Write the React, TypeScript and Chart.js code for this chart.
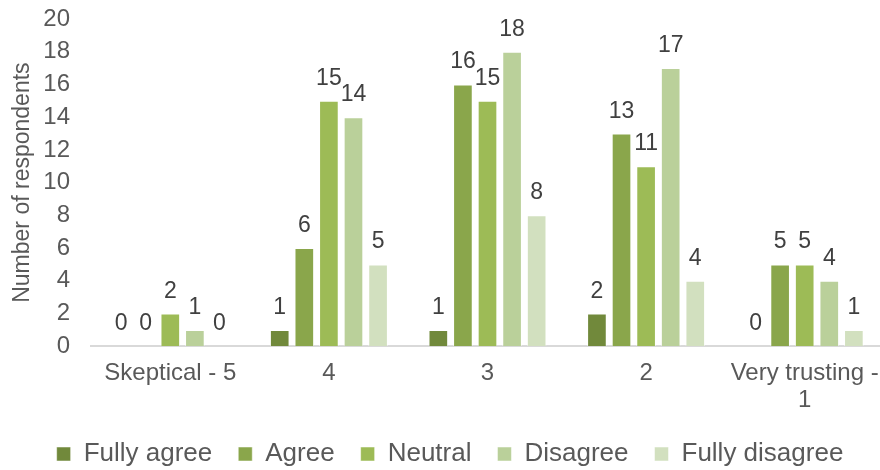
import React, { useEffect, useRef } from "react";
import { Chart, registerables } from "chart.js";

Chart.register(...registerables);

const categories: (string | string[])[] = ["Skeptical - 5", "4", "3", "2", ["Very trusting -", "1"]];
const seriesNames = ["Fully agree", "Agree", "Neutral", "Disagree", "Fully disagree"];
const fullyAgree = [0, 1, 1, 2, 0];
const agree = [0, 6, 16, 13, 5];
const neutral = [2, 15, 15, 11, 5];
const disagree = [1, 14, 18, 17, 4];
const fullyDisagree = [0, 5, 8, 4, 1];
const seriesColors = ["#71893b", "#8aa64b", "#9dbb56", "#bad09a", "#d2e0bf"];

const FONT = "'Liberation Sans', Arial, sans-serif";
const TEXT = "#595959";

// Value labels drawn above every bar, zeros included
const valueLabels = {
  id: "valueLabels",
  afterDatasetsDraw(chart: Chart) {
    const ctx = chart.ctx;
    ctx.save();
    ctx.font = `23px ${FONT}`;
    ctx.fillStyle = "#404040";
    ctx.textAlign = "center";
    ctx.textBaseline = "alphabetic";
    chart.data.datasets.forEach((ds, i) => {
      const meta = chart.getDatasetMeta(i);
      meta.data.forEach((el: any, j: number) => {
        const v = ds.data[j] as number;
        ctx.fillText(String(v), el.x, el.y - 16);
      });
    });
    ctx.restore();
  },
};

// Tighter legend block: less reserved height, drawn a little higher and
// centred on the canvas, with its clip box reaching the canvas bottom again
const LEGEND_SHRINK = 20;
const LEGEND_LIFT = 13;
const legendSpacing = {
  id: "legendSpacing",
  beforeInit(chart: any) {
    const legend = chart.legend;
    const fit = legend.fit;
    legend.fit = function () {
      fit.call(this);
      this.height -= LEGEND_SHRINK;
    };
  },
  afterLayout(chart: any) {
    const legend = chart.legend;
    legend.top -= LEGEND_LIFT;
    legend.bottom = chart.height;
    legend.left = 0;
    legend.right = chart.width;
  },
};

export default function App() {
  const ref = useRef<HTMLCanvasElement>(null);
  useEffect(() => {
    const data = [fullyAgree, agree, neutral, disagree, fullyDisagree];
    const chart = new Chart(ref.current!, {
      type: "bar",
      data: {
        labels: categories,
        datasets: seriesNames.map((name, i) => ({
          label: name,
          data: data[i],
          backgroundColor: seriesColors[i],
          borderColor: "rgba(255,255,255,0.5)",
          borderWidth: 1,
          barPercentage: 0.8,
          categoryPercentage: 0.775,
        })),
      },
      options: {
        animation: false,
        responsive: false,
        maintainAspectRatio: false,
        layout: { padding: { top: 4, right: 16, left: 0, bottom: 0 } },
        plugins: {
          legend: {
            position: "bottom",
            labels: {
              boxWidth: 14,
              boxHeight: 14,
              padding: 26,
              color: TEXT,
              font: { family: FONT, size: 26 },
            },
          },
          tooltip: { enabled: false },
        },
        scales: {
          x: {
            grid: { display: false, drawTicks: false },
            border: { display: true, color: "#d9d9d9", width: 2 },
            ticks: {
              color: TEXT,
              font: { family: FONT, size: 24, lineHeight: 1.12 },
              padding: 14,
              maxRotation: 0,
              autoSkip: false,
            },
          },
          y: {
            min: 0,
            max: 20,
            grid: { display: false, drawTicks: false },
            border: { display: false },
            ticks: {
              stepSize: 2,
              autoSkip: false,
              color: TEXT,
              font: { family: FONT, size: 24 },
              padding: 21,
            },
            title: {
              display: true,
              text: "Number of respondents",
              color: TEXT,
              font: { family: FONT, size: 23 },
              padding: { top: 9, bottom: 0 },
            },
            // fixed axis width and top inset
            afterFit(scale: any) {
              scale.width = 91;
              scale.paddingTop = 19;
            },
          },
        },
      },
      plugins: [valueLabels, legendSpacing],
    });
    return () => chart.destroy();
  }, []);
  return (
    <div
      style={{
        position: "fixed",
        left: 0,
        top: 0,
        width: 880,
        height: 470,
        overflow: "hidden",
        background: "#fff",
      }}
    >
      <canvas ref={ref} width={900} height={470} style={{ display: "block" }} />
    </div>
  );
}
